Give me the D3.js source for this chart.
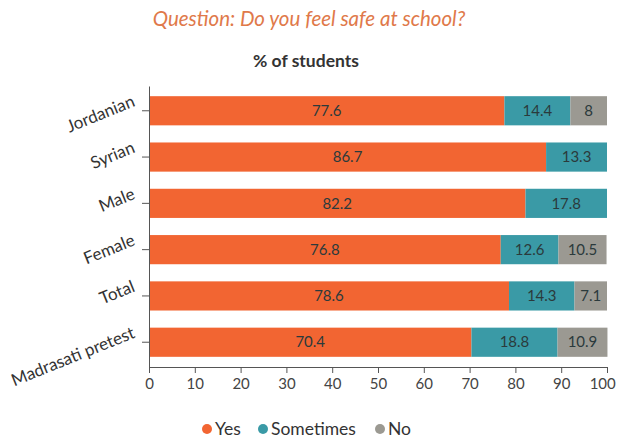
<!DOCTYPE html>
<html>
<head>
<meta charset="utf-8">
<script src="https://cdn.jsdelivr.net/npm/d3@7"></script>
<style>
  body { margin: 0; background: #fff; }
  svg { font-family: Lato, "Open Sans", sans-serif; }
</style>
</head>
<body>
<div id="chart"></div>
<script>
// data
const groups = ["Jordanian", "Syrian", "Male", "Female", "Total", "Madrasati pretest"];
const yesVals = [77.6, 86.7, 82.2, 76.8, 78.6, 70.4];
const sometimesVals = [14.4, 13.3, 17.8, 12.6, 14.3, 18.8];
const noVals = [8, 0, 0, 10.5, 7.1, 10.9];
const seriesNames = ["Yes", "Sometimes", "No"];
const seriesColors = ["#f26532", "#3a9aa6", "#9b9992"];
const xTicks = [0, 10, 20, 30, 40, 50, 60, 70, 80, 90, 100];

const width = 619, height = 439;
const margin = { top: 86, right: 12, bottom: 72, left: 149 };

const svg = d3.select("#chart").append("svg")
  .attr("width", width)
  .attr("height", height);

// titles
svg.append("text")
  .attr("x", 309).attr("y", 26)
  .attr("text-anchor", "middle")
  .attr("font-size", 20.5)
  .attr("font-style", "italic")
  .attr("fill", "#e0794a")
  .text("Question: Do you feel safe at school?");

svg.append("text")
  .attr("x", 306).attr("y", 67)
  .attr("text-anchor", "middle")
  .attr("font-size", 17.5)
  .attr("font-weight", "bold")
  .attr("fill", "#333")
  .text("% of students");

const table = groups.map((g, i) => ({ group: g, Yes: yesVals[i], Sometimes: sometimesVals[i], No: noVals[i] }));
const stacked = d3.stack().keys(seriesNames)(table);

const x = d3.scaleLinear().domain([0, 100]).range([margin.left, width - margin.right]);
const y = d3.scaleBand().domain(groups).range([margin.top, height - margin.bottom]).paddingInner(0.37).paddingOuter(0.22);
const color = d3.scaleOrdinal().domain(seriesNames).range(seriesColors);

// bars
const layer = svg.selectAll("g.layer")
  .data(stacked)
  .join("g")
    .attr("class", "layer")
    .attr("fill", d => color(d.key));

layer.selectAll("rect")
  .data(d => d)
  .join("rect")
    .attr("x", d => x(d[0]))
    .attr("y", d => y(d.data.group))
    .attr("width", d => x(d[1]) - x(d[0]))
    .attr("height", y.bandwidth());

// value labels
stacked.forEach(s => {
  svg.append("g").selectAll("text")
    .data(s.filter(d => d[1] - d[0] > 0))
    .join("text")
      .attr("x", d => (x(d[0]) + x(d[1])) / 2)
      .attr("y", d => y(d.data.group) + y.bandwidth() / 2)
      .attr("dy", "0.35em")
      .attr("text-anchor", "middle")
      .attr("font-size", 15)
      .attr("fill", "#2b3a3c")
      .text(d => d.data[s.key]);
});

// x axis
const xAxis = svg.append("g")
  .attr("transform", `translate(0,${height - margin.bottom})`)
  .call(d3.axisBottom(x).tickValues(xTicks).tickSize(6).tickSizeOuter(0));
xAxis.select(".domain").attr("stroke", "#555");
xAxis.selectAll(".tick line").attr("stroke", "#555");
xAxis.selectAll(".tick text")
  .attr("font-size", 15)
  .attr("fill", "#444")
  .attr("font-family", "Lato, sans-serif")
  .attr("dy", "0.85em");
// last label sits against the right edge, keep it inside
xAxis.selectAll(".tick text").filter(d => d === 100)
  .attr("text-anchor", "end")
  .attr("dx", "0.55em");

// y axis
const yAxis = svg.append("g")
  .attr("transform", `translate(${margin.left},0)`)
  .call(d3.axisLeft(y).tickSize(7).tickSizeOuter(0).tickFormat(""));
yAxis.select(".domain").attr("stroke", "#555");
yAxis.selectAll(".tick line").attr("stroke", "#555");

svg.append("g").selectAll("text")
  .data(groups)
  .join("text")
    .attr("transform", d => `translate(${margin.left - 13},${y(d) + y.bandwidth() / 2 - 5}) rotate(-22)`)
    .attr("text-anchor", "end")
    .attr("font-size", 17)
    .attr("fill", "#333")
    .text(d => d);

// legend
const legendX = [207, 263, 380];
const legend = svg.append("g").selectAll("g")
  .data(seriesNames)
  .join("g")
    .attr("transform", (d, i) => `translate(${legendX[i]},429)`);
legend.append("circle").attr("r", 5).attr("fill", d => color(d));
legend.append("text")
  .attr("x", 8).attr("dy", "0.35em")
  .attr("font-size", 17.5)
  .attr("fill", "#333")
  .text(d => d);
</script>
</body>
</html>
